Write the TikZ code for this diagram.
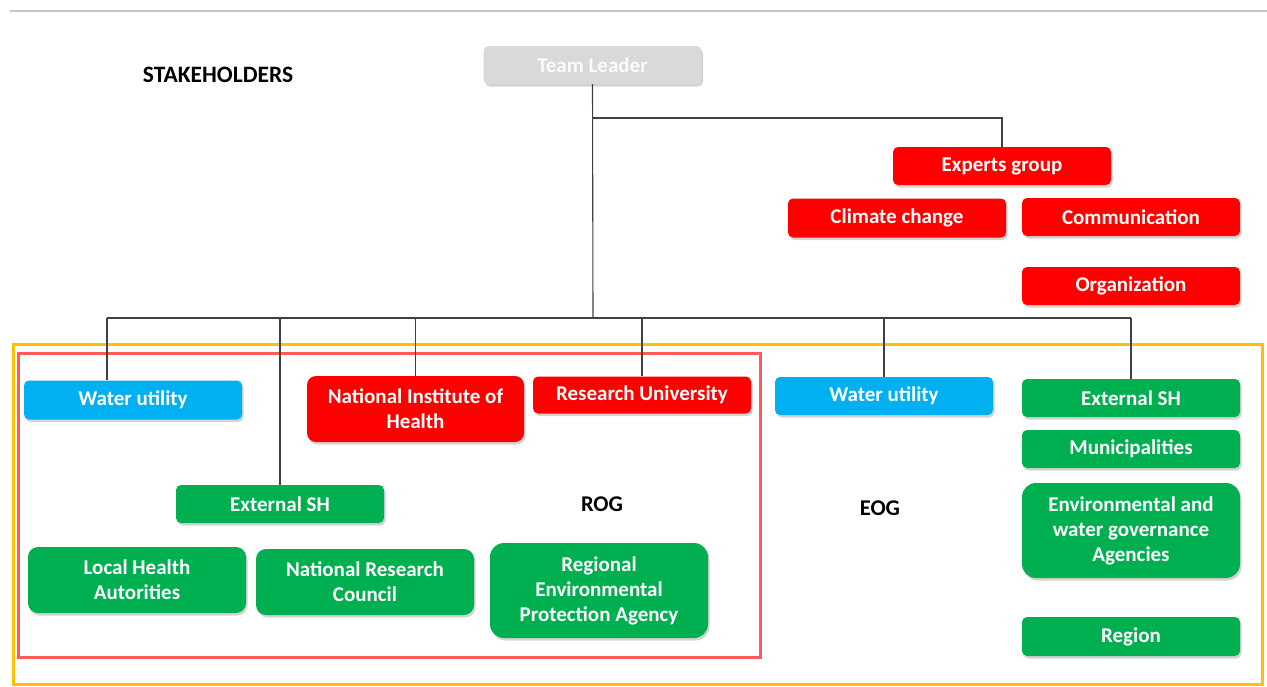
\documentclass[tikz,border=0pt]{standalone}
\usepackage{fontspec}
\setmainfont{Carlito}
\usetikzlibrary{shadows}
\definecolor{cred}{HTML}{FF0000}
\definecolor{cgreen}{HTML}{00B050}
\definecolor{cblue}{HTML}{00B0F0}
\definecolor{cgray}{HTML}{D9D9D9}
\definecolor{corange}{HTML}{FFC000}
\definecolor{csalmon}{HTML}{FF5B5B}
\definecolor{cline}{HTML}{404040}
\tikzset{
  box/.style={rounded corners=5pt, text=white, font=\bfseries\fontsize{21}{25}\selectfont,
    align=center, inner sep=0pt, minimum width=218pt, minimum height=38pt,
    drop shadow={opacity=0.35, shadow xshift=1.5pt, shadow yshift=-2.5pt}},
  redbox/.style={box, fill=cred},
  greenbox/.style={box, fill=cgreen},
  bluebox/.style={box, fill=cblue},
  graybox/.style={box, fill=cgray, text=white!97!gray},
  lbl/.style={font=\bfseries\fontsize{22.5}{25}\selectfont, text=black},
  conn/.style={draw=cline, line width=1.1pt},
}
\begin{document}
\begin{tikzpicture}[x=1pt,y=-1pt]
\useasboundingbox (0,0) rectangle (1267,686);
\draw[gray!45, line width=1.2pt] (10,11) -- (1267,11);
% group frames
\draw[corange, line width=3pt] (13,344) rectangle (1262,684);
\draw[csalmon, line width=3pt] (18,353) rectangle (760,657);
% top
\node[lbl, font=\bfseries\fontsize{23.5}{25}\selectfont] (sh) at (218,75) {STAKEHOLDERS};
\node[graybox] (tl) at (592.5,65) {Team Leader};
\node[redbox] (eg) at (1002,166) {Experts group};
\node[redbox, minimum height=39pt] (cc) at (897,218) {Climate change};
\node[redbox] (com) at (1131,217) {Communication};
\node[redbox] (org) at (1131,286) {Organization};
% ROG
\node[bluebox, minimum height=39pt] (wu1) at (133,400) {Water utility};
\node[redbox, minimum height=66pt, minimum width=217pt, rounded corners=9pt] (nih) at (415.5,409) {National Institute of\\Health};
\node[redbox, minimum height=37pt] (ru) at (642,395) {Research University};
\node[greenbox, minimum width=208pt] (ext1) at (280,504) {External SH};
\node[lbl] (rog) at (602,504) {ROG};
\node[greenbox, minimum height=66pt, rounded corners=10pt] (lha) at (137,580) {Local Health\\Autorities};
\node[greenbox, minimum height=66pt, rounded corners=10pt] (nrc) at (365,582) {National Research\\Council};
\node[greenbox, minimum height=95pt, rounded corners=14pt] (repa) at (599,590.5) {Regional\\Environmental\\Protection Agency};
% EOG
\node[bluebox] (wu2) at (884,396) {Water utility};
\node[lbl] (eog) at (880,508) {EOG};
\node[greenbox] (ext2) at (1131,398) {External SH};
\node[greenbox] (mun) at (1131,449) {Municipalities};
\node[greenbox, minimum height=95pt, rounded corners=14pt] (ewga) at (1131,530.5) {Environmental and\\water governance\\Agencies};
\node[greenbox, minimum height=39pt] (reg) at (1131,636.5) {Region};
% connectors
\coordinate (bar) at (593,318);
\coordinate (ebar) at (593,118);
\coordinate (wu1top) at (107,380);
\coordinate (wu1bar) at (107,318);
\draw[conn] (tl.south) -- (bar);
\draw[conn] (ebar) -| (eg.north);
\draw[conn] (wu1bar) -- (ext2.north |- bar);
\draw[conn] (wu1bar) -- (wu1top);
\draw[conn] (ext1.north |- bar) -- (ext1.north);
\draw[conn] (nih.north |- bar) -- (nih.north);
\draw[conn] (ru.north |- bar) -- (ru.north);
\draw[conn] (wu2.north |- bar) -- (wu2.north);
\draw[conn] (ext2.north |- bar) -- (ext2.north);
\end{tikzpicture}
\end{document}
